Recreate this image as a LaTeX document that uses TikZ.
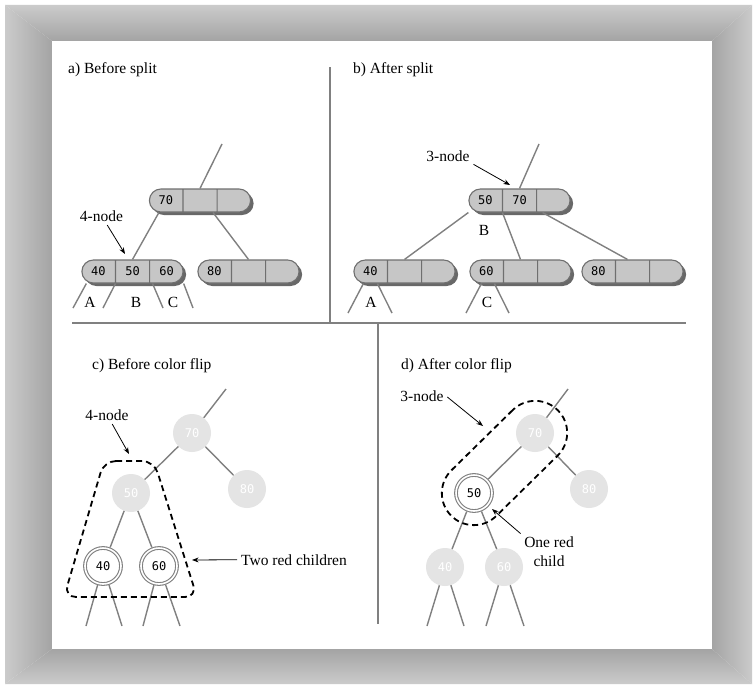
\documentclass[tikz,border=0pt]{standalone}
\usepackage{fontspec}
\setmainfont{Liberation Serif}
\setmonofont{DejaVu Sans Mono}
\usetikzlibrary{shadows, shapes.multipart, arrows.meta}
\definecolor{frameout}{HTML}{CBCBCB}
\definecolor{framein}{HTML}{A4A4A4}
\definecolor{keyfill}{HTML}{C6C6C6}
\definecolor{keyedge}{HTML}{6F6F6F}
\definecolor{keyshade}{HTML}{686868}
\definecolor{linkgray}{HTML}{808080}
\definecolor{ghostfill}{HTML}{E4E4E4}
\newcommand{\slot}[1]{\makebox[25pt]{#1}}

\begin{document}
\begin{tikzpicture}[x=1pt, y=-1pt,
		>=Stealth,
		pill/.style={
			rectangle split, rectangle split horizontal, rectangle split parts=3,
			draw=keyedge, line width=1.1pt, fill=keyfill, rounded corners=11.5pt,
			minimum height=23pt, inner xsep=4pt, inner ysep=0pt,
			font=\ttfamily\fontsize{12}{14}\selectfont,
			drop shadow={shadow xshift=3pt, shadow yshift=-3pt, fill=keyshade, opacity=1}
		},
		ghost/.style={circle, fill=ghostfill, minimum size=38pt, inner sep=0pt,
			text=white, font=\ttfamily\fontsize{12}{14}\selectfont},
		redkey/.style={circle, draw=linkgray, double=white, double distance=1.6pt,
			line width=1.1pt, fill=white, minimum size=36pt, inner sep=0pt, outer sep=1.9pt,
			font=\ttfamily\fontsize{12}{14}\selectfont},
		link/.style={draw=linkgray, line width=1.4pt},
		rule/.style={draw=linkgray, line width=1.5pt},
		fence/.style={draw=black, line width=1.8pt, dash pattern=on 6pt off 4pt},
		pointer/.style={->, black, line width=0.8pt, shorten <=2pt},
		caption/.style={anchor=base west, inner sep=2pt, font=\fontsize{15.5}{19}\selectfont},
		sublabel/.style={anchor=base, inner sep=2pt, font=\fontsize{15.5}{19}\selectfont}
		]
		\useasboundingbox (0,0) rectangle (754,685);
		\fill[white] (0,0) rectangle (754,685);
		
		% ==========================================
		% Bevelled frame
		% ==========================================
		\shade[top color=frameout, bottom color=framein] (5,5) -- (752,5) -- (712,41) -- (52,41) -- cycle;
		\shade[top color=framein, bottom color=frameout] (52,649) -- (712,649) -- (752,684) -- (5,684) -- cycle;
		\shade[left color=frameout, right color=framein] (5,5) -- (52,41) -- (52,649) -- (5,684) -- cycle;
		\shade[left color=framein, right color=frameout] (752,5) -- (752,684) -- (712,649) -- (712,41) -- cycle;
		
		% Panel dividers
		\draw[rule] (72,323) -- (686,323);
		\draw[rule] (330,67) -- (330,323);
		\draw[rule] (378,323) -- (378,624);
		
		% ==========================================
		% PANEL a: Before split
		% ==========================================
		\node[caption] at (66,74) {a) Before split};
		
		\node[pill] (a70) at (200,200.5) {\slot{70}\nodepart{two}\slot{}\nodepart{three}\slot{}};
		\node[pill] (a456) at (132.5,271.5) {\slot{40}\nodepart{two}\slot{50}\nodepart{three}\slot{60}};
		\node[pill] (a80) at (248.5,271.5) {\slot{80}\nodepart{two}\slot{}\nodepart{three}\slot{}};
		
		\coordinate (a0) at (222,144);
		\draw[link] (a70.two north) -- (a0);
		\draw[link] ([xshift=-7pt]a70.one south) -- (a456.two north);
		\draw[link] ([xshift=-4pt]a70.two split south) -- (a80.two north);
		
		% Subtrees A, B, C
		\coordinate (aA1) at (73,308);
		\coordinate (aA2) at (103,308);
		\coordinate (aC1) at (163,308);
		\coordinate (aC2) at (193,308);
		\draw[link] ([xshift=5pt]a456.south west) -- (aA1);
		\draw[link] (a456.one split south) -- (aA2);
		\draw[link] ([xshift=3pt]a456.two split south) -- (aC1);
		\draw[link] (a456.south east) -- (aC2);
		\node[sublabel] at (90,307) {A};
		\node[sublabel] at (136,307) {B};
		\node[sublabel] at (173,307) {C};
		
		\node[sublabel] (qa4) at (101.5,221) {4-node};
		\coordinate (ta4) at (125,254);
		\draw[pointer] (qa4) -- (ta4);
		
		% ==========================================
		% PANEL b: After split
		% ==========================================
		\node[caption] at (351,74) {b) After split};
		
		\node[pill] (b57) at (519.5,200.5) {\slot{50}\nodepart{two}\slot{70}\nodepart{three}\slot{}};
		\node[pill] (b40) at (404.5,271.5) {\slot{40}\nodepart{two}\slot{}\nodepart{three}\slot{}};
		\node[pill] (b60) at (520.5,271.5) {\slot{60}\nodepart{two}\slot{}\nodepart{three}\slot{}};
		\node[pill] (b80) at (632.5,271.5) {\slot{80}\nodepart{two}\slot{}\nodepart{three}\slot{}};
		
		\coordinate (b0) at (539,144);
		\draw[link] (b57.two north) -- (b0);
		\draw[link] (b57.south west) -- (b40.two north);
		\draw[link] (b57.one split south) -- (b60.two north);
		\draw[link] ([xshift=6pt]b57.two split south) -- ([xshift=-5pt]b80.two north);
		
		% Subtrees A and C
		\coordinate (bA1) at (348,313);
		\coordinate (bA2) at (392,313);
		\coordinate (bC1) at (466,313);
		\coordinate (bC2) at (509,313);
		\draw[link] ([xshift=-7pt]b40.one south) -- (bA1);
		\draw[link] ([xshift=7pt]b40.one south) -- (bA2);
		\draw[link] ([xshift=-5pt]b60.one south) -- (bC1);
		\draw[link] ([xshift=8pt]b60.one south) -- (bC2);
		\node[sublabel] at (371,307) {A};
		\node[sublabel] at (484,235) {B};
		\node[sublabel] at (487,307) {C};
		
		\node[sublabel] (qb3) at (448,161) {3-node};
		\coordinate (tb3) at (510,185);
		\draw[pointer] (qb3.south east) -- (tb3);
		
		% ==========================================
		% PANEL c: Before color flip
		% ==========================================
		\node[caption] at (90,369) {c) Before color flip};
		
		\node[ghost] (c70) at (192,433) {70};
		\node[ghost] (c50) at (131,493) {50};
		\node[ghost] (c80) at (247,489) {80};
		\node[redkey] (c40) at (103,566) {40};
		\node[redkey] (c60) at (159,566) {60};
		
		\coordinate (c0) at (226,389);
		\draw[link] (c70) -- (c0);
		\draw[link] (c70) -- (c50);
		\draw[link] (c70) -- (c80);
		\draw[link] (c50) -- (c40);
		\draw[link] (c50) -- (c60);
		
		\coordinate (c41) at (86,626);
		\coordinate (c42) at (122,626);
		\coordinate (c61) at (143,626);
		\coordinate (c62) at (180,626);
		\draw[link] (c40) -- (c41);
		\draw[link] (c40) -- (c42);
		\draw[link] (c60) -- (c61);
		\draw[link] (c60) -- (c62);
		
		% The 4-node as a group
		\draw[fence, rounded corners=12pt] (104,461) -- (154,461) -- (197,597) -- (64,597) -- cycle;
		
		\node[sublabel] (qc4) at (107,420) {4-node};
		\coordinate (tc4) at (129,454);
		\draw[pointer] (qc4) -- (tc4);
		
		\node[sublabel, anchor=base west] (qtwo) at (239,565) {Two red children};
		\coordinate (ttwo) at (192,560);
		\draw[pointer] (qtwo.west) -- (ttwo);
		
		% ==========================================
		% PANEL d: After color flip
		% ==========================================
		\node[caption] at (399,369) {d) After color flip};
		
		\node[ghost] (d70) at (535,433) {70};
		\node[redkey] (d50) at (474,493) {50};
		\node[ghost] (d80) at (589,489) {80};
		\node[ghost] (d40) at (445,567) {40};
		\node[ghost] (d60) at (504,567) {60};
		
		\coordinate (d0) at (568,389);
		\draw[link] (d70) -- (d0);
		\draw[link] (d70) -- (d50);
		\draw[link] (d70) -- (d80);
		\draw[link] (d50) -- (d40);
		\draw[link] (d50) -- (d60);
		
		\coordinate (d41) at (427,626);
		\coordinate (d42) at (464,626);
		\coordinate (d61) at (486,626);
		\coordinate (d62) at (524,626);
		\draw[link] (d40) -- (d41);
		\draw[link] (d40) -- (d42);
		\draw[link] (d60) -- (d61);
		\draw[link] (d60) -- (d62);
		
		% The 3-node as a group
		\node[fence, rectangle, rotate=44.5, minimum width=150pt, minimum height=64pt,
			rounded corners=32pt, inner sep=0pt] (dpair) at (504.5,463) {};
		
		\node[sublabel] (qd3) at (422,401) {3-node};
		\coordinate (td3) at (483,426);
		\draw[pointer] (qd3.east) -- (td3);
		
		\node[sublabel, align=center, anchor=center] (qone) at (549,552) {One red\\child};
		\coordinate (tone) at (492,509);
		\draw[pointer] (qone.north west) -- (tone);
		
	\end{tikzpicture}
\end{document}
